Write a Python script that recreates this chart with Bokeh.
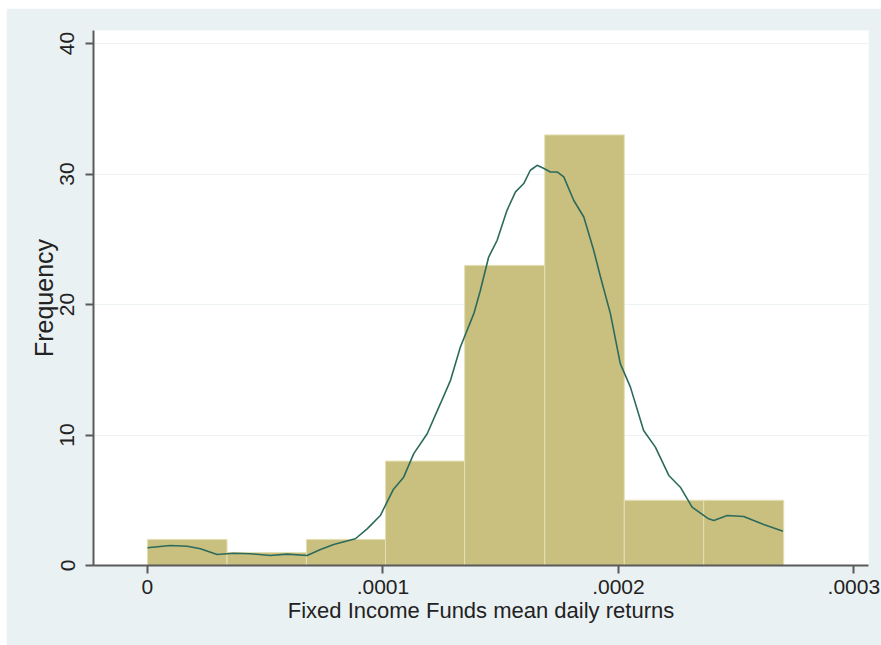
from bokeh.plotting import figure
from bokeh.models import FixedTicker, Range1d, Spacer
from bokeh.layouts import row, column
from bokeh.embed import file_html
from bokeh.resources import INLINE

# Histogram bins (Fixed Income Funds mean daily returns)
bin_edges = [0.0, 0.0000338, 0.0000675, 0.0001011, 0.0001347, 0.0001687,
             0.0002025, 0.0002362, 0.0002702]
counts = [2, 1, 2, 8, 23, 33, 5, 5]

# Kernel density overlay (scaled to frequency)
kde_x = [0.0, 0.0000098, 0.0000169, 0.0000225, 0.0000296, 0.0000365, 0.0000437,
         0.0000522, 0.0000593, 0.0000678, 0.0000735, 0.0000791, 0.0000883,
         0.0000933, 0.0000989, 0.0001045, 0.0001088, 0.0001131, 0.0001188,
         0.0001244, 0.0001287, 0.0001329, 0.0001386, 0.0001414, 0.0001449,
         0.0001485, 0.0001527, 0.0001563, 0.0001598, 0.0001626, 0.0001655,
         0.0001682, 0.0001711, 0.0001740, 0.0001768, 0.0001810, 0.0001853,
         0.0001895, 0.0001924, 0.0001966, 0.0002008, 0.0002051, 0.0002107,
         0.0002157, 0.0002214, 0.0002263, 0.0002313, 0.0002383, 0.0002405,
         0.0002462, 0.0002532, 0.0002617, 0.0002699]
kde_y = [1.36, 1.53, 1.48, 1.28, 0.84, 0.94, 0.90,
         0.77, 0.87, 0.77, 1.23, 1.61, 2.05,
         2.81, 3.83, 5.85, 6.77, 8.57, 10.10,
         12.40, 14.19, 16.74, 19.30, 21.09, 23.64,
         24.92, 27.22, 28.63, 29.27, 30.29, 30.67,
         30.44, 30.16, 30.16, 29.78, 27.99, 26.71,
         24.16, 22.11, 19.30, 15.47, 13.67, 10.35,
         9.07, 6.90, 6.00, 4.47, 3.58, 3.45,
         3.83, 3.76, 3.14, 2.63]

x_ticks = [0.0, 0.0001, 0.0002, 0.0003]
x_tick_labels = ["0", ".0001", ".0002", ".0003"]
y_ticks = [0, 10, 20, 30, 40]

FONT = "Liberation Sans"
BG = "#eaf1f3"

p = figure(width=875, height=637, output_backend="svg", toolbar_location=None,
           x_range=Range1d(-0.0000229, 0.0003062), y_range=Range1d(0, 41.0),
           min_border_left=87, min_border_right=13, min_border_top=22,
           min_border_bottom=80)
p.background_fill_color = "white"
p.border_fill_color = BG
p.outline_line_color = None

p.quad(left=bin_edges[:-1], right=bin_edges[1:], top=counts, bottom=0,
       fill_color="#c9c07f", line_color="#e4dfb4", line_width=1)
p.line(kde_x, kde_y, line_color="#2c6a5c", line_width=1.6)

p.xgrid.visible = False
p.ygrid.grid_line_color = "#edf2f3"
p.ygrid.grid_line_width = 1
p.ygrid.ticker = FixedTicker(ticks=y_ticks)

for ax in (p.xaxis[0], p.yaxis[0]):
    ax.axis_line_color = "#5a5a5a"
    ax.axis_line_width = 2
    ax.major_tick_line_color = "#5a5a5a"
    ax.major_tick_line_width = 2
    ax.major_tick_out = 8
    ax.major_tick_in = 0
    ax.minor_tick_line_color = None
    ax.major_label_text_font = FONT
    ax.major_label_text_font_size = "21px"
    ax.major_label_text_color = "#222222"
    ax.axis_label_text_font = FONT
    ax.axis_label_text_font_style = "normal"
    ax.axis_label_text_color = "#222222"

p.xaxis.ticker = FixedTicker(ticks=x_ticks)
p.xaxis.major_label_overrides = {t: l for t, l in zip(x_ticks, x_tick_labels)}
p.xaxis.axis_label = "Fixed Income Funds mean daily returns"
p.xaxis.axis_label_text_font_size = "22px"
p.xaxis.major_label_standoff = 6
p.xaxis.axis_label_standoff = 1

p.yaxis.ticker = FixedTicker(ticks=y_ticks)
p.yaxis.major_label_orientation = "vertical"
p.yaxis.axis_label = "Frequency"
p.yaxis.axis_label_text_font_size = "25px"
p.yaxis.major_label_standoff = 11
p.yaxis.axis_label_standoff = 0

layout = row(Spacer(width=6), column(Spacer(height=8), p))

open("out.html", "w").write(file_html(layout, INLINE))
